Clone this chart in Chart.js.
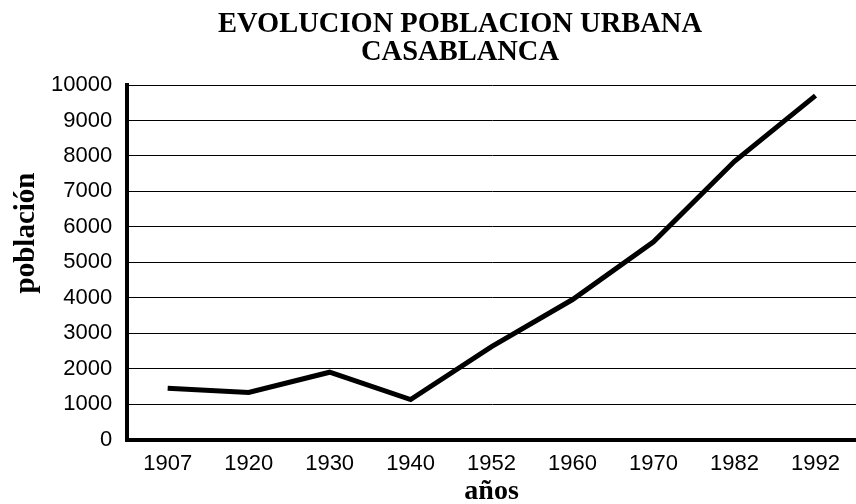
<!DOCTYPE html>
<html>
<head>
<meta charset="utf-8">
<script src="https://cdn.jsdelivr.net/npm/chart.js@4/dist/chart.umd.min.js"></script>
<style>
  html, body { margin: 0; padding: 0; background: #fff; }
  #wrap { width: 856px; height: 504px; }
</style>
</head>
<body>
<div id="wrap"><canvas id="popChart" width="856" height="504"></canvas></div>
<script>
const years = ['1907', '1920', '1930', '1940', '1952', '1960', '1970', '1982', '1992'];
const poblacion = [1450, 1330, 1900, 1130, 2620, 3950, 5580, 7850, 9700];
const titleLines = ['EVOLUCION POBLACION URBANA', 'CASABLANCA'];
const yTitle = 'población';
const xTitle = 'años';

// titles drawn by hand: the main one sits right of centre,
// the y one sits above the middle of the axis
const titlePlugin = {
  id: 'titleLines',
  afterDraw(chart) {
    const ctx = chart.ctx;
    ctx.save();
    ctx.fillStyle = '#000';
    ctx.textAlign = 'center';
    ctx.textBaseline = 'middle';
    ctx.font = 'bold 28.5px "Liberation Serif"';
    titleLines.forEach((t, i) => ctx.fillText(t, 460, 25 + i * 28));
    ctx.font = 'bold 29px "Liberation Serif"';
    ctx.translate(27, 233);
    ctx.rotate(-Math.PI / 2);
    ctx.fillText(yTitle, 0, 0);
    ctx.restore();
  }
};

const ctx = document.getElementById('popChart').getContext('2d');
new Chart(ctx, {
  type: 'line',
  data: {
    labels: years,
    datasets: [
      {
        label: 'población',
        data: poblacion,
        borderColor: '#000',
        borderWidth: 5,
        pointRadius: 0,
        tension: 0,
        fill: false,
      },
    ],
  },
  options: {
    responsive: false,
    animation: false,
    layout: { padding: { top: 85, right: 0, bottom: 0, left: 36 } },
    plugins: {
      legend: { display: false },
      tooltip: { enabled: false },
    },
    scales: {
      x: {
        offset: true,
        grid: { display: false, drawTicks: false },
        border: { display: true, color: '#000', width: 4 },
        ticks: {
          color: '#000',
          padding: 11,
          font: { family: '"Liberation Sans"', size: 22 },
        },
        title: {
          display: true,
          text: xTitle,
          color: '#000',
          font: { family: '"Liberation Serif"', size: 28, weight: 'bold', lineHeight: 1 },
          padding: { top: -10, bottom: -2 },
        },
      },
      y: {
        min: 0,
        max: 10000,
        grid: { color: '#000', lineWidth: 1, drawTicks: false },
        border: { display: true, color: '#000', width: 4 },
        ticks: {
          stepSize: 1000,
          color: '#000',
          padding: 15,
          font: { family: '"Liberation Sans"', size: 22 },
          callback: (v) => String(v),
        },
      },
    },
  },
  plugins: [titlePlugin],
});
</script>
</body>
</html>
